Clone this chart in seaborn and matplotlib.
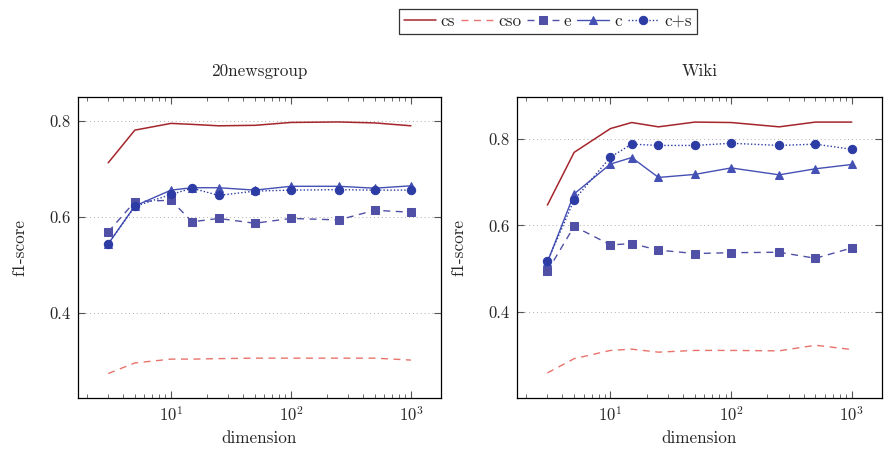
import matplotlib
matplotlib.use("Agg")
import matplotlib.pyplot as plt
import seaborn as sns
import pandas as pd

dims = [3, 5, 10, 15, 25, 50, 100, 250, 500, 1000]

# 20newsgroup
news_cs = [0.713, 0.781, 0.795, 0.793, 0.790, 0.791, 0.797, 0.798, 0.796, 0.790]
news_cso = [0.274, 0.296, 0.304, 0.304, 0.305, 0.306, 0.306, 0.306, 0.306, 0.302]
news_e = [0.569, 0.632, 0.635, 0.590, 0.597, 0.587, 0.597, 0.594, 0.614, 0.610]
news_c = [0.544, 0.623, 0.656, 0.661, 0.661, 0.656, 0.664, 0.664, 0.660, 0.665]
news_cs2 = [0.544, 0.622, 0.647, 0.660, 0.645, 0.654, 0.656, 0.657, 0.656, 0.656]

# Wiki
wiki_cs = [0.647, 0.769, 0.824, 0.838, 0.828, 0.839, 0.838, 0.828, 0.839, 0.839]
wiki_cso = [0.259, 0.292, 0.311, 0.314, 0.307, 0.311, 0.311, 0.310, 0.323, 0.313]
wiki_e = [0.494, 0.598, 0.555, 0.558, 0.543, 0.535, 0.537, 0.538, 0.524, 0.548]
wiki_c = [0.515, 0.673, 0.742, 0.757, 0.711, 0.718, 0.733, 0.717, 0.731, 0.741]
wiki_cs2 = [0.517, 0.659, 0.758, 0.788, 0.785, 0.785, 0.790, 0.785, 0.788, 0.776]

methods = ["cs", "cso", "e", "c", "c+s"]

styles = {
    "cs":  dict(color="#a4262c", linestyle="-", marker=None, lw=1.1),
    "cso": dict(color="#e8736c", linestyle=(0, (5, 4)), marker=None, lw=1.0),
    "e":   dict(color="#5050a6", linestyle=(0, (5, 4)), marker="s", lw=1.0, ms=6),
    "c":   dict(color="#4450b4", linestyle="-", marker="^", lw=1.0, ms=6),
    "c+s": dict(color="#2c3ca4", linestyle=(0, (1, 1.5)), marker="o", lw=1.0, ms=6),
}

sns.set_theme(style="white")
plt.rcParams["font.family"] = ["cmr10", "DejaVu Serif"]
plt.rcParams["mathtext.fontset"] = "cm"
plt.rcParams["axes.formatter.use_mathtext"] = True

fig = plt.figure(figsize=(8.84, 4.5), dpi=100)
ax1 = fig.add_axes([78 / 884, 1 - 398 / 450, 363 / 884, 301 / 450])
ax2 = fig.add_axes([517 / 884, 1 - 398 / 450, 365 / 884, 301 / 450])

panels = [
    (ax1, "20newsgroup", [news_cs, news_cso, news_e, news_c, news_cs2], (0.223, 0.85)),
    (ax2, "Wiki", [wiki_cs, wiki_cso, wiki_e, wiki_c, wiki_cs2], (0.201, 0.897)),
]

for ax, title, series, ylim in panels:
    df = pd.DataFrame({"dimension": dims * 5,
                       "score": sum(series, []),
                       "method": [m for m in methods for _ in dims]})
    for m in methods:
        st = styles[m]
        sub = df[df["method"] == m]
        sns.lineplot(data=sub, x="dimension", y="score", ax=ax, label=m,
                     color=st["color"], linestyle=st["linestyle"], linewidth=st["lw"],
                     marker=st["marker"], markersize=st.get("ms", 6),
                     markeredgecolor=st["color"], markerfacecolor=st["color"],
                     legend=False)
    ax.set_xscale("log")
    ax.set_xlim(1.68, 1780)
    ax.set_ylim(*ylim)
    ax.set_yticks([0.4, 0.6, 0.8])
    ax.set_yticklabels(["0.4", "0.6", "0.8"])
    ax.grid(axis="y", linestyle=(0, (1, 3)), color="#b0b0b0", linewidth=0.7)
    ax.tick_params(which="both", direction="in", top=True, right=True, bottom=True, left=True,
                   labelsize=12, color="#555555")
    ax.tick_params(which="major", length=5, width=0.8, pad=5)
    ax.tick_params(which="minor", length=3, width=0.6)
    for sp in ax.spines.values():
        sp.set_color("black")
        sp.set_linewidth(0.9)
    ax.set_title(title, fontsize=12.3, pad=15)
    ax.set_xlabel("dimension", fontsize=12.3, labelpad=5)
    ax.set_ylabel("f1-score", fontsize=12.3, labelpad=16)

handles, labels = ax1.get_legend_handles_labels()
leg = fig.legend(handles, labels, loc="center", bbox_to_anchor=(548 / 884, 1 - 21.5 / 450),
                 ncol=5, frameon=True, fancybox=False, edgecolor="black", fontsize=12.3,
                 handlelength=1.85, handletextpad=0.3, columnspacing=0.35, borderpad=0.3,
                 borderaxespad=0)
leg.get_frame().set_linewidth(0.9)

fig.savefig("out.png", dpi=100)
